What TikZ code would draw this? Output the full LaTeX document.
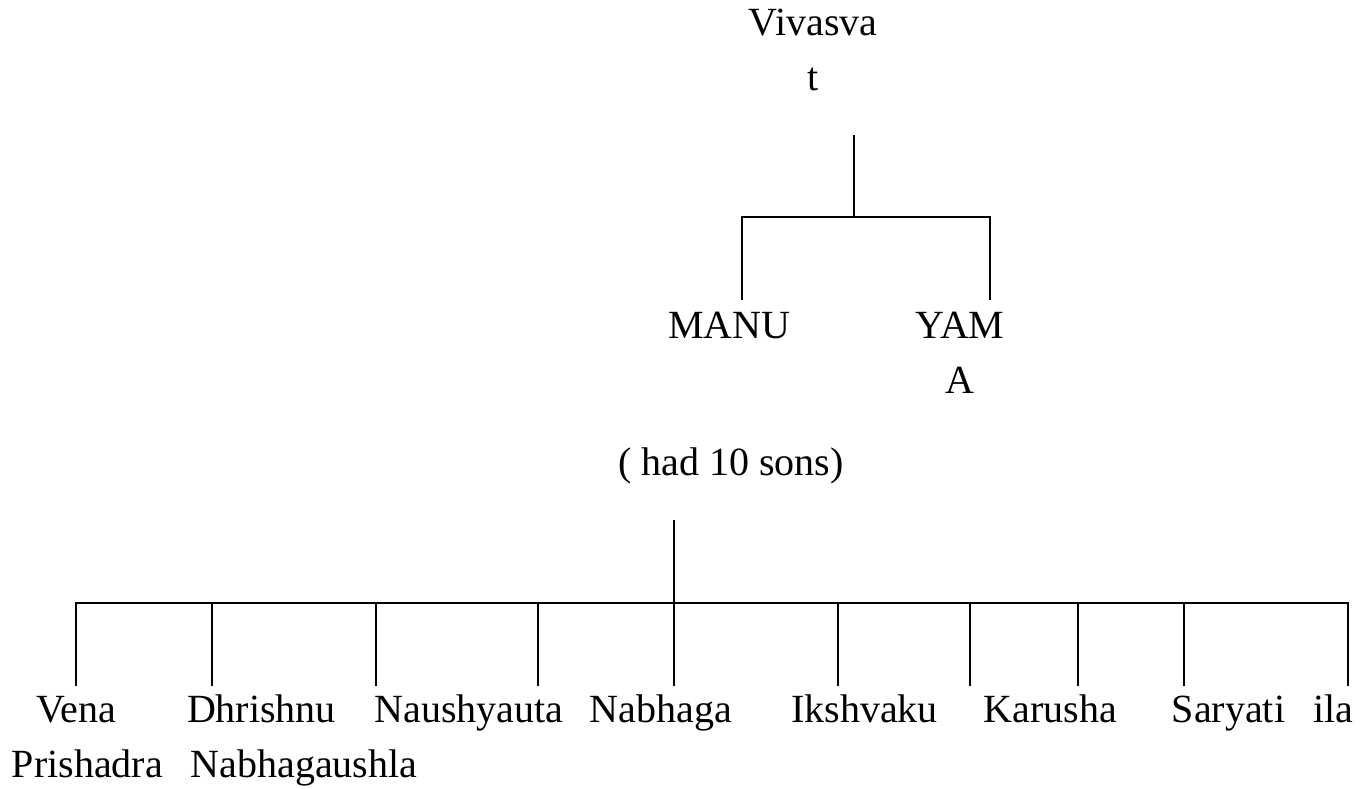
\documentclass[tikz,border=0pt]{standalone}
\usepackage{fontspec}
\setmainfont{Liberation Serif}
\begin{document}
\begin{tikzpicture}[x=1pt,y=1pt,
  lbl/.style={inner sep=0pt,anchor=base,font=\fontsize{40}{55}\selectfont},
  link/.style={line width=2.4pt,black}]
\useasboundingbox (0,0) rectangle (1369,-788);
% top generation
\node[lbl] (viv) at (813,-35) {\begin{tabular}[t]{@{}c@{}}Vivasva\\t\end{tabular}};
\node[lbl] (manu) at (729.5,-338) {MANU};
\node[lbl] (yama) at (960,-338) {\begin{tabular}[t]{@{}c@{}}YAM\\A\end{tabular}};
\node[lbl] (sons) at (731,-475) {( had 10 sons)};
% sons
\node[lbl] (vena) at (76,-722) {Vena};
\node[lbl] (dhr) at (261.5,-722) {Dhrishnu};
\node[lbl] (nau) at (469,-722) {Naushyauta};
\node[lbl] (nab) at (661,-722) {Nabhaga};
\node[lbl] (iks) at (864.5,-722) {Ikshvaku};
\node[lbl] (kar) at (1050.5,-722) {Karusha};
\node[lbl] (sar) at (1228.5,-722) {Saryati};
\node[lbl] (ila) at (1333.5,-722) {ila};
\node[lbl] (pri) at (87.5,-777) {Prishadra};
\node[lbl] (nabg) at (304,-777) {Nabhagaushla};
% connector points
\coordinate (vtop) at (854,-135);
\coordinate (vj) at (854,-217);
\coordinate (mend) at (742,-300);
\coordinate (yend) at (990,-300);
\coordinate (stop) at (674,-520);
\coordinate (sj) at (674,-603);
\draw[link] (vtop) -- (vj);
\draw[link] (mend) |- (vj) -| (yend);
\draw[link] (stop) -- (sj);
\foreach \i/\xx in {1/76,2/212,3/376,4/538,5/674,6/838,7/970,8/1078,9/1184,10/1348}{
  \coordinate (b\i) at (\xx,-603);
  \coordinate (e\i) at (\xx,-686);
}
\draw[link] (e1) |- (b10) -- (e10);
\foreach \i in {2,...,9}{\draw[link] (b\i) -- (e\i);}
\end{tikzpicture}
\end{document}
